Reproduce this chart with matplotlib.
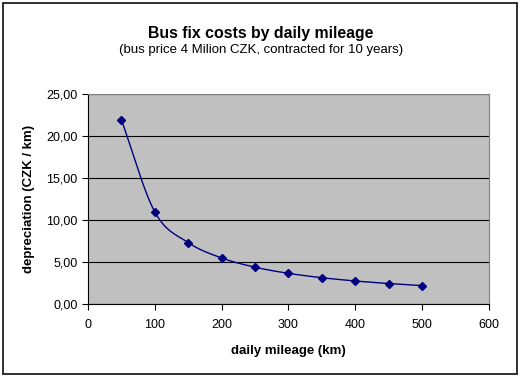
import numpy as np
import matplotlib
matplotlib.use('Agg')
import matplotlib.pyplot as plt
from matplotlib.patches import Rectangle
from matplotlib.ticker import FuncFormatter

# daily mileage (km) and depreciation (CZK / km)
mileage = [50, 100, 150, 200, 250, 300, 350, 400, 450, 500]
depreciation = [21.92, 10.96, 7.31, 5.48, 4.38, 3.65, 3.13, 2.74, 2.44, 2.19]

title = 'Bus fix costs by daily mileage'
subtitle = '(bus price 4 Milion CZK, contracted for 10 years)'
xlabel = 'daily mileage (km)'
ylabel = 'depreciation (CZK / km)'


def smooth(x, y, n=30):
    # Catmull-Rom style smoothing like Excel's smoothed line
    x = np.asarray(x, float)
    y = np.asarray(y, float)
    px = np.concatenate([[2 * x[0] - x[1]], x, [2 * x[-1] - x[-2]]])
    py = np.concatenate([[2 * y[0] - y[1]], y, [2 * y[-1] - y[-2]]])
    xs, ys = [], []
    t = np.linspace(0, 1, n)
    for i in range(1, len(px) - 2):
        for p, out in ((px, xs), (py, ys)):
            p0, p1, p2, p3 = p[i - 1], p[i], p[i + 1], p[i + 2]
            out.extend(0.5 * ((2 * p1) + (-p0 + p2) * t
                              + (2 * p0 - 5 * p1 + 4 * p2 - p3) * t ** 2
                              + (-p0 + 3 * p1 - 3 * p2 + p3) * t ** 3))
    return np.array(xs), np.array(ys)


plt.rcParams['font.family'] = ['Liberation Sans', 'DejaVu Sans']

fig = plt.figure(figsize=(5.22, 3.81), dpi=100)
fig.patch.set_facecolor('white')
fig.patches.append(Rectangle((0.006, 0.018), 0.985, 0.975, transform=fig.transFigure,
                             fill=False, edgecolor='#202020', linewidth=1.3))

ax = fig.add_axes([0.1686, 0.2021, 0.768, 0.5512])
ax.set_facecolor('#c0c0c0')

sx, sy = smooth(mileage, depreciation)
ax.plot(sx, sy, color='#000080', linewidth=1, zorder=3)
ax.plot(mileage, depreciation, linestyle='none', marker='D', markersize=4.5,
        color='#000080', zorder=4)

ax.set_xlim(0, 600)
ax.set_ylim(0, 25)
ax.set_xticks(np.arange(0, 601, 100))
ax.set_yticks(np.arange(0, 26, 5))
ax.yaxis.set_major_formatter(FuncFormatter(lambda v, p: f'{v:.2f}'.replace('.', ',')))
ax.grid(axis='y', color='black', linewidth=0.8)
ax.set_axisbelow(True)
ax.tick_params(labelsize=9, length=4, width=0.8, color='black', direction='out')
ax.tick_params(axis='x', pad=7)

for side in ('top', 'right'):
    ax.spines[side].set_color('#808080')
for side in ('left', 'bottom'):
    ax.spines[side].set_color('black')

ax.set_xlabel(xlabel, fontsize=9.5, fontweight='bold', labelpad=10)
ax.set_ylabel(ylabel, fontsize=9.5, fontweight='bold', labelpad=8)

fig.text(0.5, 0.911, title, ha='center', va='center', fontsize=11.4, fontweight='bold')
fig.text(0.5, 0.869, subtitle, ha='center', va='center', fontsize=9.5)

fig.savefig('out.png', dpi=100)
